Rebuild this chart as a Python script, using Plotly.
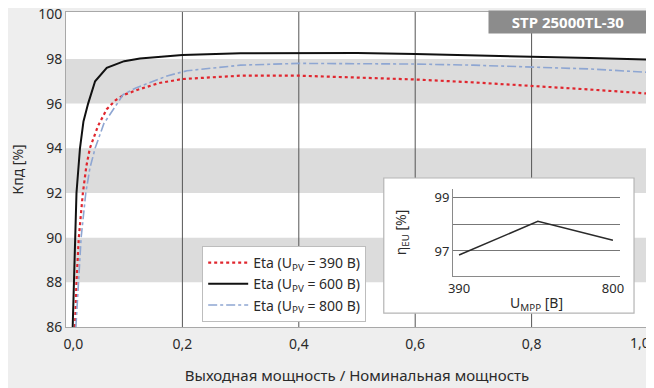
import plotly.graph_objects as go

# ---------------- data ----------------
x_390 = [0.0155, 0.018, 0.022, 0.029, 0.035, 0.041, 0.055, 0.07, 0.085, 0.1, 0.127, 0.16, 0.2,
         0.3, 0.4, 0.5, 0.6, 0.7, 0.8, 0.9, 1.0]
eta_390 = [86, 88, 90, 92, 93.2, 94, 95.0, 95.75, 96.15, 96.4, 96.65, 96.92, 97.1,
           97.25, 97.25, 97.18, 97.08, 96.95, 96.8, 96.63, 96.45]

x_600 = [0.0115, 0.014, 0.0155, 0.018, 0.024, 0.03, 0.038, 0.05, 0.07, 0.1, 0.127, 0.15, 0.2,
         0.3, 0.4, 0.5, 0.6, 0.7, 0.8, 0.9, 1.0]
eta_600 = [86, 88, 90, 92, 94, 95.2, 96, 97.0, 97.6, 97.9, 98.02, 98.08, 98.18,
           98.25, 98.27, 98.26, 98.22, 98.17, 98.11, 98.04, 97.97]

x_800 = [0.017, 0.021, 0.026, 0.034, 0.041, 0.05, 0.065, 0.088, 0.098, 0.12, 0.144, 0.175, 0.208,
         0.3, 0.4, 0.5, 0.6, 0.7, 0.8, 0.9, 1.0]
eta_800 = [86, 88, 90, 92, 93.1, 94, 95.1, 96.0, 96.4, 96.7, 96.93, 97.25, 97.47,
           97.72, 97.8, 97.8, 97.77, 97.72, 97.65, 97.55, 97.4]

u_mpp = [390, 600, 800]
eta_eu = [96.85, 98.1, 97.4]

series_names = ["Eta (U<sub>PV</sub> = 390 В)", "Eta (U<sub>PV</sub> = 600 В)", "Eta (U<sub>PV</sub> = 800 В)"]

x_ticks = [0.0, 0.2, 0.4, 0.6, 0.8, 1.0]
x_tick_text = ["\u00a0\u00a0\u00a0\u00a00,0", "0,2", "0,4", "0,6", "0,8", ""]
x_last_label = "1,0"
y_ticks = [86, 88, 90, 92, 94, 96, 98, 100]
band_ranges = [(88, 90), (92, 94), (96, 98)]
inset_x_ticks = [390, 800]
inset_y_ticks = [97, 98, 99]
inset_y_text = ["97", "", "99"]

title_box = "STP 25000TL-30"

FONT = "Noto Sans"
TXT = "#2a2a2a"

fig = go.Figure()

fig.add_trace(go.Scatter(x=x_390, y=eta_390, mode="lines", name=series_names[0],
                         line=dict(color="#e0262e", width=2.2, dash="dot")))
fig.add_trace(go.Scatter(x=x_600, y=eta_600, mode="lines", name=series_names[1],
                         line=dict(color="#111111", width=2)))
fig.add_trace(go.Scatter(x=x_800, y=eta_800, mode="lines", name=series_names[2],
                         line=dict(color="#8ea6d2", width=1.6, dash="dashdot")))

fig.add_trace(go.Scatter(x=u_mpp, y=eta_eu, mode="lines", showlegend=False,
                         xaxis="x2", yaxis="y2", line=dict(color="#2a2a2a", width=1.5)))

shapes = []
# gray bands
for lo, hi in band_ranges:
    shapes.append(dict(type="rect", xref="x domain", yref="y", x0=0, x1=1, y0=lo, y1=hi,
                       fillcolor="#dcdcdc", line=dict(width=0), layer="below"))
# vertical grid lines
for t in x_ticks[1:-1]:
    shapes.append(dict(type="line", xref="x", yref="y domain", x0=t, x1=t, y0=0, y1=1,
                       line=dict(color="#555555", width=1), layer="below"))
# inset box
shapes.append(dict(type="rect", xref="paper", yref="paper", x0=0.546, x1=0.976, y0=0.044, y1=0.473,
                   fillcolor="white", line=dict(color="#b5b5b5", width=1.2), layer="below"))
fig.update_layout(shapes=shapes)

fig.add_annotation(x=1.0, y=1.0063, xref="paper", yref="paper", xanchor="right", yanchor="top",
                   text="<b>" + title_box + "</b>", showarrow=False,
                   width=156, height=20, borderpad=1, bgcolor="#8c8c8c",
                   font=dict(family=FONT, size=15, color="white"))

# last x tick label kept inside the page
fig.add_annotation(x=x_ticks[-1], y=0, xref="x", yref="paper", xanchor="right", yanchor="top",
                   text=x_last_label, showarrow=False, xshift=4, yshift=-4,
                   font=dict(family=FONT, size=14, color=TXT))

fig.update_layout(
    width=646, height=380,
    margin=dict(l=58, r=6, t=4, b=61, autoexpand=False),
    paper_bgcolor="#eeeeee",
    plot_bgcolor="white",
    separators=", ",
    font=dict(family=FONT, size=13, color=TXT),
    xaxis=dict(domain=[0, 1], range=[0, 1], tickvals=x_ticks, ticktext=x_tick_text,
               showgrid=False, zeroline=False, showline=True, mirror=True,
               linecolor="#a8a8a8", linewidth=1, ticks="", tickfont=dict(size=14),
               ticklabeloverflow="allow", automargin=False, ticklabelstandoff=4,
               title=dict(text="Выходная мощность / Номинальная мощность",
                          font=dict(size=15, color=TXT), standoff=18)),
    yaxis=dict(domain=[0, 1], range=[86, 100.1], tickvals=y_ticks,
               showgrid=False, zeroline=False, showline=True, mirror=True,
               linecolor="#a8a8a8", linewidth=1, ticks="", tickfont=dict(size=14),
               ticklabeloverflow="allow", automargin=False,
               title=dict(text="Кпд [%]", font=dict(size=14, color=TXT), standoff=14)),
    xaxis2=dict(domain=[0.665, 0.952], range=[374, 819], anchor="y2",
                tickvals=inset_x_ticks, showgrid=False, zeroline=False,
                showline=True, linecolor="#8a8a8a", linewidth=1, ticks="",
                tickfont=dict(size=13), automargin=True,
                title=dict(text="U<sub>MPP</sub> [В]", font=dict(size=14), standoff=2)),
    yaxis2=dict(domain=[0.162, 0.438], range=[96.07, 99.3], anchor="x2",
                tickvals=inset_y_ticks, ticktext=inset_y_text,
                showgrid=True, gridcolor="#777777", gridwidth=1, zeroline=False,
                showline=True, linecolor="#8a8a8a", linewidth=1, ticks="",
                tickfont=dict(size=13), automargin=True,
                title=dict(text="η<sub>EU</sub> [%]", font=dict(size=14), standoff=24)),
    legend=dict(x=0.234, y=0.257, xanchor="left", yanchor="top",
                bgcolor="white", bordercolor="#bdbdbd", borderwidth=1,
                font=dict(size=14, color=TXT), tracegroupgap=2, itemwidth=40),
)

fig.write_html("out.html")
